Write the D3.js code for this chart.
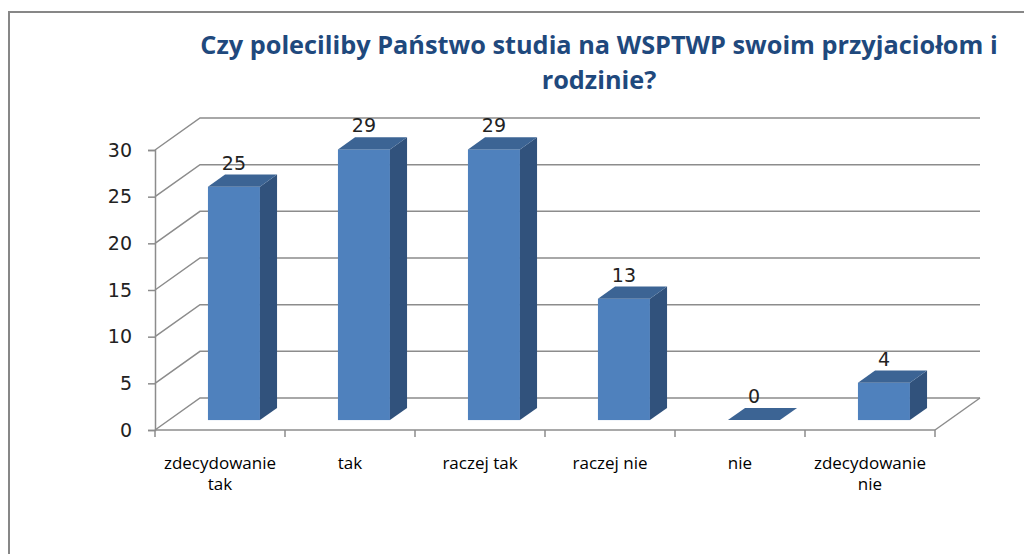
<!DOCTYPE html>
<html>
<head>
<meta charset="utf-8">
<script src="https://cdn.jsdelivr.net/npm/d3@7"></script>
<style>
  body { margin: 0; background: #fff; }
  svg { display: block; }
</style>
</head>
<body>
<svg id="chart"></svg>
<script>
var width = 1024;
var height = 554;

var categories = [["zdecydowanie", "tak"], ["tak"], ["raczej tak"], ["raczej nie"], ["nie"], ["zdecydowanie", "nie"]];
var values = [25, 29, 29, 13, 0, 4];
var yTicks = [0, 5, 10, 15, 20, 25, 30];
var titleLines = ["Czy poleciliby Państwo studia na WSPTWP swoim przyjaciołom i", "rodzinie?"];

// 3d depth of the plot floor
var depthX = 45;
var depthY = -32;
var barFront = 0.31;
var barBack = 0.69;

var svg = d3.select("#chart")
    .attr("width", width)
    .attr("height", height);

svg.append("rect")
    .attr("x", 9)
    .attr("y", 12)
    .attr("width", 1040)
    .attr("height", 560)
    .attr("fill", "#fff")
    .attr("stroke", "#878787")
    .attr("stroke-width", 2);

var x = d3.scaleBand()
    .domain(d3.range(categories.length))
    .range([155, 935])
    .padding(0);

var y = d3.scaleLinear()
    .domain([0, 30])
    .range([430, 150]);

var gridColor = "#8c8c8c";

// back wall and side wall gridlines
for (var i = 0; i < yTicks.length; i++) {
    var gy = y(yTicks[i]);
    svg.append("path")
        .attr("d", "M" + x.range()[0] + "," + gy +
            "L" + (x.range()[0] + depthX) + "," + (gy + depthY) +
            "L" + (x.range()[1] + depthX) + "," + (gy + depthY))
        .attr("fill", "none")
        .attr("stroke", gridColor)
        .attr("stroke-width", 1.5);
}

// floor right edge
svg.append("line")
    .attr("x1", x.range()[1])
    .attr("y1", y(0))
    .attr("x2", x.range()[1] + depthX)
    .attr("y2", y(0) + depthY)
    .attr("stroke", gridColor)
    .attr("stroke-width", 1.5);

// y axis
var yAxis = d3.axisLeft(y)
    .tickValues(yTicks)
    .tickSize(7)
    .tickPadding(16);

var yg = svg.append("g")
    .attr("transform", "translate(" + x.range()[0] + ",0)")
    .call(yAxis);

yg.select(".domain").attr("stroke", gridColor).attr("stroke-width", 1.5);
yg.selectAll(".tick line").attr("stroke", gridColor).attr("stroke-width", 1.5);
yg.selectAll(".tick text")
    .attr("font-family", "DejaVu Sans")
    .attr("font-size", "19px")
    .attr("fill", "#222");

// x axis line and ticks at band edges
svg.append("line")
    .attr("x1", x.range()[0])
    .attr("x2", x.range()[1])
    .attr("y1", y(0))
    .attr("y2", y(0))
    .attr("stroke", gridColor)
    .attr("stroke-width", 1.5);

for (var i = 0; i <= categories.length; i++) {
    var tx = x.range()[0] + i * x.step();
    svg.append("line")
        .attr("x1", tx)
        .attr("x2", tx)
        .attr("y1", y(0))
        .attr("y2", y(0) + 7)
        .attr("stroke", gridColor)
        .attr("stroke-width", 1.5);
}

// category labels
for (var i = 0; i < categories.length; i++) {
    var label = svg.append("text")
        .attr("x", x(i) + x.bandwidth() / 2)
        .attr("y", 469)
        .attr("text-anchor", "middle")
        .attr("font-family", "Open Sans")
        .attr("font-size", "17px")
        .attr("fill", "#000");
    for (var j = 0; j < categories[i].length; j++) {
        label.append("tspan")
            .attr("x", x(i) + x.bandwidth() / 2)
            .attr("dy", j === 0 ? 0 : 21)
            .text(categories[i][j]);
    }
}

// bars
var barWidth = x.bandwidth() * 0.4;
var bdx = (barBack - barFront) * depthX;
var bdy = (barBack - barFront) * depthY;

for (var i = 0; i < values.length; i++) {
    var x0 = x(i) + (x.bandwidth() - barWidth) / 2 + barFront * depthX;
    var x1 = x0 + barWidth;
    var yb = y(0) + barFront * depthY;
    var yt = y(values[i]) + barFront * depthY;

    if (values[i] > 0) {
        svg.append("rect")
            .attr("x", x0)
            .attr("y", yt)
            .attr("width", barWidth)
            .attr("height", yb - yt)
            .attr("fill", "#4f81bd");

        svg.append("path")
            .attr("d", "M" + x1 + "," + yt + "L" + (x1 + bdx) + "," + (yt + bdy) +
                "L" + (x1 + bdx) + "," + (yb + bdy) + "L" + x1 + "," + yb + "Z")
            .attr("fill", "#31527c");
    }

    svg.append("path")
        .attr("d", "M" + x0 + "," + yt + "L" + x1 + "," + yt +
            "L" + (x1 + bdx) + "," + (yt + bdy) + "L" + (x0 + bdx) + "," + (yt + bdy) + "Z")
        .attr("fill", "#3c6494");

    svg.append("text")
        .attr("x", x0 + barWidth / 2)
        .attr("y", yt + bdy - 5)
        .attr("text-anchor", "middle")
        .attr("font-family", "DejaVu Sans")
        .attr("font-size", "19px")
        .attr("fill", "#222")
        .text(values[i]);
}

// title
var title = svg.append("text")
    .attr("x", 599)
    .attr("y", 54)
    .attr("text-anchor", "middle")
    .attr("font-family", "Open Sans")
    .attr("font-weight", "bold")
    .attr("font-size", "25.3px")
    .attr("fill", "#1f497d");

for (var i = 0; i < titleLines.length; i++) {
    title.append("tspan")
        .attr("x", 599)
        .attr("dy", i === 0 ? 0 : 35)
        .text(titleLines[i]);
}
</script>
</body>
</html>
